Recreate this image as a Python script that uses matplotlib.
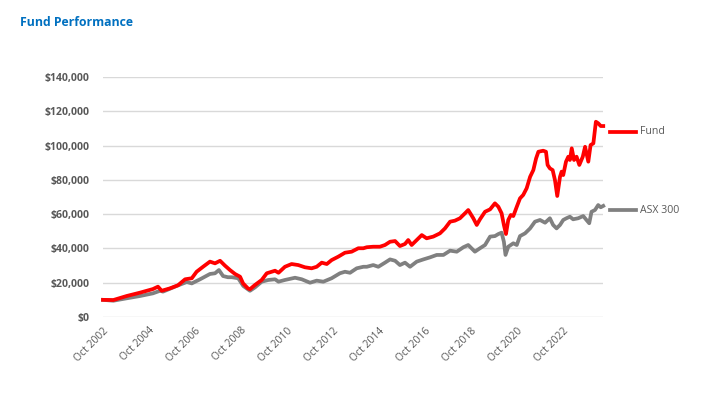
import matplotlib
matplotlib.use("Agg")
import matplotlib.pyplot as plt
from matplotlib.lines import Line2D
from matplotlib.ticker import FuncFormatter

# ---- data (decimal year, value in $) ----
fund_t = [2002.75, 2003.20, 2003.78, 2004.36, 2004.92, 2005.14, 2005.30, 2005.66, 2006.01, 2006.32,
          2006.61, 2006.82, 2007.10, 2007.40, 2007.62, 2007.84, 2008.05, 2008.27, 2008.49, 2008.71,
          2008.84, 2009.05, 2009.14, 2009.36, 2009.65, 2009.87, 2010.23, 2010.38, 2010.66, 2010.95,
          2011.24, 2011.53, 2011.82, 2012.04, 2012.26, 2012.48, 2012.69, 2012.98, 2013.27, 2013.56,
          2013.85, 2014.07, 2014.22, 2014.50, 2014.79, 2015.01, 2015.23, 2015.45, 2015.66, 2015.88,
          2016.02, 2016.17, 2016.39, 2016.61, 2016.82, 2017.11, 2017.40, 2017.62, 2017.84, 2018.05,
          2018.27, 2018.49, 2018.63, 2018.85, 2019.00, 2019.14, 2019.36, 2019.58, 2019.79, 2019.94,
          2020.08, 2020.18, 2020.27, 2020.37, 2020.48, 2020.59, 2020.74, 2020.88, 2021.02, 2021.17,
          2021.32, 2021.46, 2021.58, 2021.68, 2021.89, 2022.01, 2022.08, 2022.18, 2022.30, 2022.40,
          2022.50, 2022.62, 2022.69, 2022.76, 2022.88, 2022.98, 2023.05, 2023.13, 2023.23, 2023.34,
          2023.46, 2023.61, 2023.71, 2023.85, 2023.95, 2024.07, 2024.18, 2024.28, 2024.39, 2024.50]
fund_v = [10000, 9900, 12250, 14200, 16300, 17700, 15300, 16700, 18500, 22000,
          22600, 26400, 29300, 32300, 31300, 32800, 30000, 27400, 25100, 23500,
          19600, 16700, 16200, 18700, 21600, 25500, 27000, 25800, 29300, 30900,
          30300, 29000, 28400, 29300, 31700, 30900, 33200, 35200, 37500, 38100,
          40100, 40100, 40700, 41000, 41000, 42000, 43900, 44300, 41400, 42600,
          44900, 42000, 44900, 47800, 45900, 46900, 48800, 51700, 55600, 56200,
          57600, 60500, 62400, 57600, 53700, 57000, 61400, 62800, 66300, 64300,
          60500, 53700, 48400, 56600, 59500, 58900, 64300, 69200, 71200, 75100,
          81800, 85700, 92500, 96400, 97000, 96400, 88700, 86700, 85700, 79900,
          70600, 81800, 84800, 82800, 90600, 93500, 91600, 98400, 91600, 93500,
          88700, 93500, 99300, 90600, 100300, 101300, 113900, 113000, 111400, 111400]

asx_t = [2002.75, 2003.20, 2003.78, 2004.36, 2004.92, 2005.23, 2005.36, 2005.95, 2006.39, 2006.61,
         2006.97, 2007.40, 2007.62, 2007.79, 2007.97, 2008.18, 2008.35, 2008.63, 2008.85, 2009.14,
         2009.36, 2009.65, 2009.94, 2010.23, 2010.38, 2010.66, 2011.10, 2011.39, 2011.75, 2012.04,
         2012.33, 2012.69, 2013.05, 2013.27, 2013.49, 2013.78, 2014.07, 2014.22, 2014.50, 2014.72,
         2015.01, 2015.23, 2015.45, 2015.66, 2015.88, 2016.10, 2016.39, 2016.68, 2016.97, 2017.26,
         2017.55, 2017.84, 2018.13, 2018.42, 2018.63, 2018.92, 2019.14, 2019.36, 2019.58, 2019.79,
         2019.94, 2020.08, 2020.18, 2020.25, 2020.37, 2020.59, 2020.74, 2020.88, 2021.10, 2021.32,
         2021.53, 2021.75, 2021.97, 2022.18, 2022.32, 2022.47, 2022.62, 2022.76, 2022.90, 2023.05,
         2023.19, 2023.41, 2023.63, 2023.77, 2023.89, 2023.99, 2024.14, 2024.28, 2024.39, 2024.50]
asx_v = [10000, 9500, 10900, 12250, 13800, 15300, 14800, 18100, 20400, 19600,
         22000, 25100, 25500, 27400, 23900, 23200, 23200, 22600, 18100, 15300,
         17300, 20600, 21600, 22000, 20600, 21600, 22900, 22000, 20000, 21200,
         20600, 22600, 25500, 26400, 25800, 28400, 29300, 29300, 30300, 29300,
         31700, 33600, 32800, 30300, 31700, 29300, 32300, 33600, 34800, 36200,
         36200, 38700, 38100, 40700, 42000, 38100, 40100, 42000, 46900, 47200,
         48400, 49200, 43900, 36200, 41000, 43000, 42000, 47200, 48800, 51700,
         55600, 56600, 55000, 57600, 53700, 51700, 53700, 56600, 57600, 58500,
         57000, 57600, 58900, 56600, 54700, 61400, 62400, 65300, 64000, 64800]

tick_years = [2002.75, 2004.75, 2006.75, 2008.75, 2010.75, 2012.75, 2014.75, 2016.75, 2018.75, 2020.75, 2022.75]
tick_labels = ["Oct 2002", "Oct 2004", "Oct 2006", "Oct 2008", "Oct 2010", "Oct 2012",
               "Oct 2014", "Oct 2016", "Oct 2018", "Oct 2020", "Oct 2022"]
y_ticks = [0, 20000, 40000, 60000, 80000, 100000, 120000, 140000]
series_names = ["Fund", "ASX 300"]

plt.rcParams['font.family'] = ['Open Sans', 'DejaVu Sans']

W, H = 719, 394
fig = plt.figure(figsize=(W / 100, H / 100), dpi=100)
ax = fig.add_axes([103 / W, 1 - 317 / H, 500 / W, (317 - 77) / H])

red = "#FF0000"
gray = "#808080"
ax.plot(asx_t, asx_v, color=gray, lw=2.7, solid_joinstyle='round', clip_on=False, zorder=3)
ax.plot(fund_t, fund_v, color=red, lw=2.7, solid_joinstyle='round', clip_on=False, zorder=4)

ax.set_xlim(2002.75, 2002.75 + 500 / 23)
ax.set_ylim(0, 140000)
ax.set_yticks(y_ticks)
ax.yaxis.set_major_formatter(FuncFormatter(lambda v, p: "${:,.0f}".format(v)))
ax.set_xticks(tick_years)
ax.set_xticklabels(tick_labels, rotation=45, ha='right', rotation_mode='anchor')
ax.tick_params(axis='both', length=0, colors="#595959")
ax.tick_params(axis='y', labelsize=7.6, pad=10)
ax.tick_params(axis='x', labelsize=7.5, pad=6)
for lab in ax.get_yticklabels():
    lab.set_fontweight('bold')
ax.grid(axis='y', color="#D9D9D9", lw=1)
ax.set_axisbelow(True)
for s in ax.spines.values():
    s.set_visible(False)

# legend at right
for name, col, ypx in [(series_names[0], red, 132), (series_names[1], gray, 210)]:
    yf = 1 - ypx / H
    fig.add_artist(Line2D([610 / W, 636 / W], [yf, yf], color=col, lw=2.7, transform=fig.transFigure))
    fig.text(640 / W, yf, name, color="#595959", fontsize=7.6, va='center', ha='left')

fig.text(20 / W, 1 - 22 / H, "Fund Performance", color="#0070C0", fontsize=8.8,
         fontweight='bold', va='center', ha='left')

fig.savefig("out.png", dpi=100)
